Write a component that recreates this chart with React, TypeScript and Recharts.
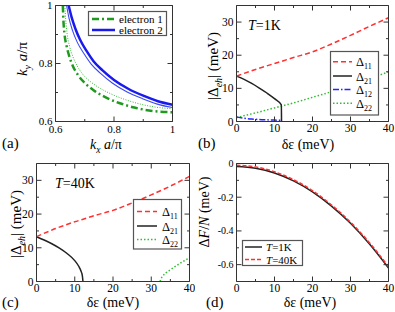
import React from "react";
import { LineChart, Line, XAxis, YAxis } from "recharts";

const FONT = '"Liberation Serif", "Times New Roman", Times, Tinos, "Noto Serif", "DejaVu Serif", serif';

// ---------- Panel (a): Fermi surfaces ----------
const e1ThickKx = [0.625, 0.627, 0.631, 0.638, 0.647, 0.66, 0.677, 0.7, 0.73, 0.77, 0.82, 0.87, 0.92, 0.96, 1.0];
const e1ThickKy = [1.0, 0.95, 0.9, 0.86, 0.825, 0.79, 0.76, 0.733, 0.708, 0.684, 0.663, 0.648, 0.638, 0.634, 0.632];
const e1ThinKx = [0.632, 0.635, 0.64, 0.648, 0.659, 0.674, 0.694, 0.72, 0.75, 0.79, 0.84, 0.89, 0.94, 1.0];
const e1ThinKy = [1.0, 0.95, 0.9, 0.86, 0.825, 0.792, 0.762, 0.737, 0.716, 0.695, 0.675, 0.66, 0.65, 0.644];
const e2ThickKx = [0.645, 0.655, 0.668, 0.685, 0.705, 0.73, 0.76, 0.8, 0.85, 0.9, 0.95, 1.0];
const e2ThickKy = [1.0, 0.96, 0.92, 0.88, 0.845, 0.808, 0.777, 0.743, 0.712, 0.689, 0.67, 0.658];
const e2ThinKx = [0.638, 0.646, 0.658, 0.675, 0.696, 0.722, 0.753, 0.794, 0.845, 0.897, 0.948, 1.0];
const e2ThinKy = [1.0, 0.957, 0.914, 0.872, 0.836, 0.798, 0.767, 0.733, 0.702, 0.679, 0.66, 0.648];

// ---------- Panel (b): T = 1K ----------
const b11X = [0, 5, 10, 12, 15, 20, 25, 30, 35, 40];
const b11Y = [13.7, 15.7, 17.5, 18.2, 19.3, 21.0, 23.4, 26.0, 28.7, 31.3];
const b21X = [0, 2, 4, 6, 8, 10, 11.8, 11.85];
const b21Y = [13.7, 12.7, 11.5, 10.1, 8.6, 6.9, 5.0, 0];
const b12X = [0, 2, 4, 6, 8, 10, 11.8, 11.85];
const b12Y = [1.4, 1.0, 0.75, 0.6, 0.5, 0.42, 0.38, 0];
const b22X = [0, 5, 10, 15, 20, 25, 30, 35, 40];
const b22Y = [1.2, 2.6, 4.1, 5.6, 7.3, 9.0, 10.9, 12.9, 15.0];

// ---------- Panel (c): T = 40K ----------
const c11X = [0, 5, 10, 12, 15, 20, 25, 30, 35, 40];
const c11Y = [13.3, 15.7, 17.7, 18.4, 19.5, 21.1, 23.3, 25.7, 28.3, 31.2];
const c21X = [0, 2, 4, 6, 8, 10, 11, 11.6, 12.0, 12.15];
const c21Y = [13.3, 12.3, 11.2, 9.9, 8.3, 6.2, 4.6, 3.2, 1.6, 0];
const c22X = [32.3, 32.6, 33, 34, 35, 36, 37, 38, 39, 40];
const c22Y = [0, 0.9, 1.6, 2.7, 3.5, 4.3, 5.0, 5.7, 6.4, 7.0];

// ---------- Panel (d): free energy ----------
const dX = [0, 5, 10, 15, 20, 25, 30, 35, 40];
const dF1K = [-0.018, -0.028, -0.056, -0.103, -0.168, -0.253, -0.355, -0.478, -0.62];
const dF40K = [-0.01, -0.02, -0.049, -0.096, -0.161, -0.246, -0.348, -0.47, -0.612];

// ---------- ticks ----------
const kTicks = [0.6, 0.8, 1];
const kMinor = [0.7, 0.9];
const eTicks = [0, 10, 20, 30, 40];
const eMinor = [5, 15, 25, 35];
const gapTicks = [0, 10, 20, 30];
const gapMinor = [5, 15, 25];
const fTicks = [0, -0.2, -0.4, -0.6];
const fMinor = [-0.1, -0.3, -0.5];

const RED = "#ff3030";
const BLACK = "#222222";
const BLUE = "#2424ff";
const GREEN = "#33bb33";
const GREEN_A = "#1f9a1f";
const BLUE_A = "#1a1aee";

type Pt = { x: number; y: number };
const pts = (xs: number[], ys: number[]): Pt[] => xs.map((x, i) => ({ x, y: ys[i] }));

const textStyle = { fontFamily: FONT };

type Side = "b" | "t" | "l" | "r";
function makeTick(side: Side, majors: number[], fmt: ((v: number) => string) | null, fontSize: number, gap = 2) {
  return (props: any) => {
    const { x, y, payload } = props;
    const v = payload.value as number;
    const major = majors.some((m) => Math.abs(m - v) < 1e-9);
    const len = major ? 5 : 2.5;
    let c = { x1: x, y1: y, x2: x, y2: y };
    if (side === "b") c = { x1: x, x2: x, y1: y, y2: y - len };
    else if (side === "t") c = { x1: x, x2: x, y1: y, y2: y + len };
    else if (side === "l") c = { x1: x, x2: x + len, y1: y, y2: y };
    else c = { x1: x, x2: x - len, y1: y, y2: y };
    let label: React.ReactNode = null;
    if (fmt && major) {
      if (side === "b")
        label = (
          <text x={x} y={y + gap} dy="0.71em" textAnchor="middle" fontSize={fontSize} style={textStyle} fill="#000">
            {fmt(v)}
          </text>
        );
      else if (side === "l")
        label = (
          <text x={x - 3} y={y} dy="0.35em" textAnchor="end" fontSize={fontSize} style={textStyle} fill="#000">
            {fmt(v)}
          </text>
        );
    }
    return (
      <g>
        <line {...c} stroke="#333" strokeWidth={1} />
        {label}
      </g>
    );
  };
}

type PanelProps = {
  left: number;
  top: number;
  width: number;
  height: number;
  plot: { L: number; R: number; T: number; B: number };
  xDomain: [number, number];
  yDomain: [number, number];
  xTicks: number[];
  xMinor: number[];
  yTicks: number[];
  yMinor: number[];
  xFmt: (v: number) => string;
  yFmt: (v: number) => string;
  xFont: number;
  yFont: number;
  xGap?: number;
  children: React.ReactNode;
};

function Panel(p: PanelProps) {
  const margin = {
    top: p.plot.T - 1,
    left: p.plot.L - 1,
    right: p.width - p.plot.R - 1,
    bottom: p.height - p.plot.B - 1,
  };
  const xAll = [...p.xTicks, ...p.xMinor].sort((a, b) => a - b);
  const yAll = [...p.yTicks, ...p.yMinor].sort((a, b) => a - b);
  const axisLine = { stroke: "#333", strokeWidth: 1 };
  return (
    <div style={{ position: "absolute", left: p.left, top: p.top }}>
      <LineChart width={p.width} height={p.height} margin={margin}>
        <XAxis xAxisId="b" orientation="bottom" type="number" dataKey="x" domain={p.xDomain} ticks={xAll}
          interval={0} height={1} tickSize={0} tickMargin={0} tickLine={false} axisLine={axisLine}
          tick={makeTick("b", p.xTicks, p.xFmt, p.xFont, p.xGap ?? 2)} allowDataOverflow />
        <XAxis xAxisId="t" orientation="top" type="number" dataKey="x" domain={p.xDomain} ticks={xAll}
          interval={0} height={1} tickSize={0} tickMargin={0} tickLine={false} axisLine={axisLine}
          tick={makeTick("t", p.xTicks, null, 0)} allowDataOverflow />
        <YAxis yAxisId="l" orientation="left" type="number" domain={p.yDomain} ticks={yAll}
          interval={0} width={1} tickSize={0} tickMargin={0} tickLine={false} axisLine={axisLine}
          tick={makeTick("l", p.yTicks, p.yFmt, p.yFont)} allowDataOverflow />
        <YAxis yAxisId="r" orientation="right" type="number" domain={p.yDomain} ticks={yAll}
          interval={0} width={1} tickSize={0} tickMargin={0} tickLine={false} axisLine={axisLine}
          tick={makeTick("r", p.yTicks, null, 0)} allowDataOverflow />
        {p.children}
      </LineChart>
    </div>
  );
}

const series = (data: Pt[], stroke: string, width: number, dash?: string, key?: string) => (
  <Line key={key} xAxisId="b" yAxisId="l" data={data} dataKey="y" type="monotone" stroke={stroke}
    strokeWidth={width} strokeDasharray={dash} dot={false} activeDot={false} isAnimationActive={false} />
);

const intFmt = (v: number) => String(v);
const kFmt = (v: number) => (v === 1 ? "1" : v.toFixed(1));
const fFmt = (v: number) => (v === 0 ? "0" : v.toFixed(1));

const legendA = [
  { name: "electron 1", color: GREEN_A, width: 2.5, dash: "7 3 2 3" },
  { name: "electron 2", color: BLUE_A, width: 2.5, dash: undefined as string | undefined },
];
const legendB = [
  { sub: "11", color: RED, width: 1.5, dash: "5 3" },
  { sub: "21", color: BLACK, width: 1.5, dash: undefined as string | undefined },
  { sub: "12", color: BLUE, width: 1.5, dash: "6 2 1.5 2" },
  { sub: "22", color: GREEN, width: 1.5, dash: "1.5 2" },
];
const legendC = [legendB[0], legendB[1], legendB[3]];
const legendD = [
  { t: "1K", color: BLACK, width: 1.5, dash: undefined as string | undefined },
  { t: "40K", color: RED, width: 1.5, dash: "4 2" },
];

export default function App() {
  return (
    <div style={{ position: "absolute", left: 0, top: 0, width: 395, height: 312, background: "#fff", fontFamily: FONT }}>
      <Panel left={0} top={0} width={195} height={150} plot={{ L: 55.5, R: 172.5, T: 5.5, B: 121.5 }}
        xDomain={[0.6, 1]} yDomain={[0.6, 1]} xTicks={kTicks} xMinor={kMinor} yTicks={kTicks} yMinor={kMinor}
        xFmt={kFmt} yFmt={kFmt} xFont={11} yFont={11} xGap={4}>
        {series(pts(e1ThinKx, e1ThinKy), GREEN, 1, "1 1.5", "e1t")}
        {series(pts(e2ThinKx, e2ThinKy), "#3a4af0", 1.1, undefined, "e2t")}
        {series(pts(e1ThickKx, e1ThickKy), GREEN_A, 2.5, "7 3 2 3", "e1")}
        {series(pts(e2ThickKx, e2ThickKy), BLUE_A, 2.5, undefined, "e2")}
      </Panel>

      <Panel left={195} top={0} width={200} height={150} plot={{ L: 41.5, R: 193.5, T: 5.5, B: 121.5 }}
        xDomain={[0, 40]} yDomain={[0, 35]} xTicks={eTicks} xMinor={eMinor} yTicks={gapTicks} yMinor={gapMinor}
        xFmt={intFmt} yFmt={intFmt} xFont={11.5} yFont={11.5}>
        {series(pts(b22X, b22Y), GREEN, 1.5, "1.5 2", "b22")}
        {series(pts(b12X, b12Y), BLUE, 1.5, "6 2 1.5 2", "b12")}
        {series(pts(b21X, b21Y), BLACK, 1.5, undefined, "b21")}
        {series(pts(b11X, b11Y), RED, 1.5, "5 3", "b11")}
      </Panel>

      <Panel left={0} top={150} width={195} height={162} plot={{ L: 36.5, R: 189.5, T: 13.5, B: 131.5 }}
        xDomain={[0, 40]} yDomain={[0, 35]} xTicks={eTicks} xMinor={eMinor} yTicks={gapTicks} yMinor={gapMinor}
        xFmt={intFmt} yFmt={intFmt} xFont={11.5} yFont={11.5}>
        {series(pts(c22X, c22Y), GREEN, 1.5, "1.5 2", "c22")}
        {series(pts(c21X, c21Y), BLACK, 1.5, undefined, "c21")}
        {series(pts(c11X, c11Y), RED, 1.5, "5 3", "c11")}
      </Panel>

      <Panel left={195} top={150} width={200} height={162} plot={{ L: 41.5, R: 193.5, T: 13.5, B: 131.5 }}
        xDomain={[0, 40]} yDomain={[-0.7, 0]} xTicks={eTicks} xMinor={eMinor} yTicks={fTicks} yMinor={fMinor}
        xFmt={intFmt} yFmt={fFmt} xFont={11.5} yFont={10}>
        {series(pts(dX, dF1K), BLACK, 1.5, undefined, "d1")}
        {series(pts(dX, dF40K), RED, 1.5, "4 2", "d40")}
      </Panel>

      <svg width={395} height={312} style={{ position: "absolute", left: 0, top: 0, pointerEvents: "none", fontFamily: FONT }}
        fill="#000">
        {/* Panel (a) legend */}
        <rect x={88.5} y={11.5} width={78} height={24} fill="#fff" stroke="#555" strokeWidth={1.2} />
        {legendA.map((it, i) => {
          const y = 19 + i * 11;
          return (
            <g key={it.name}>
              <line x1={92} x2={115} y1={y} y2={y} stroke={it.color} strokeWidth={it.width} strokeDasharray={it.dash} />
              <text x={119} y={y + 4} fontSize={11} style={textStyle}>{it.name}</text>
            </g>
          );
        })}

        {/* Panel (b) legend */}
        <rect x={330.5} y={51.5} width={48} height={63.5} fill="#fff" stroke="#555" strokeWidth={1.2} />
        {legendB.map((it, i) => {
          const y = [61.7, 76, 89.5, 103.3][i];
          return (
            <g key={"b" + it.sub}>
              <line x1={333} x2={352} y1={y} y2={y} stroke={it.color} strokeWidth={it.width} strokeDasharray={it.dash} />
              <text x={356} y={y + 4.5} fontSize={12.5} style={textStyle}>Δ<tspan fontSize={8} dy={3}>{it.sub}</tspan></text>
            </g>
          );
        })}

        {/* Panel (c) legend */}
        <rect x={133.5} y={199.5} width={48} height={49.5} fill="#fff" stroke="#555" strokeWidth={1.2} />
        {legendC.map((it, i) => {
          const y = [211.5, 226, 239.5][i];
          return (
            <g key={"c" + it.sub}>
              <line x1={137} x2={157} y1={y} y2={y} stroke={it.color} strokeWidth={it.width} strokeDasharray={it.dash} />
              <text x={162} y={y + 4.5} fontSize={12.5} style={textStyle}>Δ<tspan fontSize={8} dy={3}>{it.sub}</tspan></text>
            </g>
          );
        })}

        {/* Panel (d) legend */}
        <rect x={242.5} y={240.5} width={60} height={25} fill="#fff" stroke="#555" strokeWidth={1.2} />
        {legendD.map((it, i) => {
          const y = [247, 259.5][i];
          return (
            <g key={"d" + it.t}>
              <line x1={245} x2={262} y1={y} y2={y} stroke={it.color} strokeWidth={it.width} strokeDasharray={it.dash} />
              <text x={266} y={y + 4} fontSize={11} style={textStyle}><tspan fontStyle="italic">T</tspan>={it.t}</text>
            </g>
          );
        })}

        {/* temperature labels */}
        <text x={248} y={30} fontSize={14} style={textStyle}><tspan fontStyle="italic">T</tspan>=1K</text>
        <text x={55} y={188} fontSize={14} style={textStyle}><tspan fontStyle="italic">T</tspan>=40K</text>

        {/* axis titles */}
        <text x={106} y={149} fontSize={14} textAnchor="middle" style={textStyle}>
          <tspan fontStyle="italic">k</tspan><tspan fontStyle="italic" fontSize={9.5} dy={4}>x</tspan>
          <tspan dy={-4} fontStyle="italic"> a</tspan><tspan>/π</tspan>
        </text>
        <text transform="translate(27,59) rotate(-90)" fontSize={15} textAnchor="middle" style={textStyle}>
          <tspan fontStyle="italic">k</tspan><tspan fontStyle="italic" fontSize={10} dy={4}>y</tspan>
          <tspan dy={-4} fontStyle="italic"> a</tspan><tspan>/π</tspan>
        </text>

        <text x={308} y={149} fontSize={14} textAnchor="middle" style={textStyle}>δε (meV)</text>
        <text transform="translate(218,66) rotate(-90)" fontSize={15} textAnchor="middle" style={textStyle}>
          |Δ<tspan fontStyle="italic" fontSize={10} dy={4}>eh</tspan><tspan dy={-4}>| (meV)</tspan>
        </text>

        <text x={113} y={307} fontSize={14} textAnchor="middle" style={textStyle}>δε (meV)</text>
        <text transform="translate(21,224) rotate(-90)" fontSize={15} textAnchor="middle" style={textStyle}>
          |Δ<tspan fontStyle="italic" fontSize={10} dy={4}>eh</tspan><tspan dy={-4}>| (meV)</tspan>
        </text>

        <text x={310} y={307} fontSize={14} textAnchor="middle" style={textStyle}>δε (meV)</text>
        <text transform="translate(209,212) rotate(-90)" fontSize={14} textAnchor="middle" style={textStyle}>
          Δ<tspan fontStyle="italic">F</tspan>/<tspan fontStyle="italic">N</tspan> (meV)
        </text>

        {/* panel labels */}
        <text x={2} y={148} fontSize={15} style={textStyle}>(a)</text>
        <text x={198} y={148} fontSize={15} style={textStyle}>(b)</text>
        <text x={2} y={307} fontSize={15} style={textStyle}>(c)</text>
        <text x={206} y={307} fontSize={15} style={textStyle}>(d)</text>
      </svg>
    </div>
  );
}
